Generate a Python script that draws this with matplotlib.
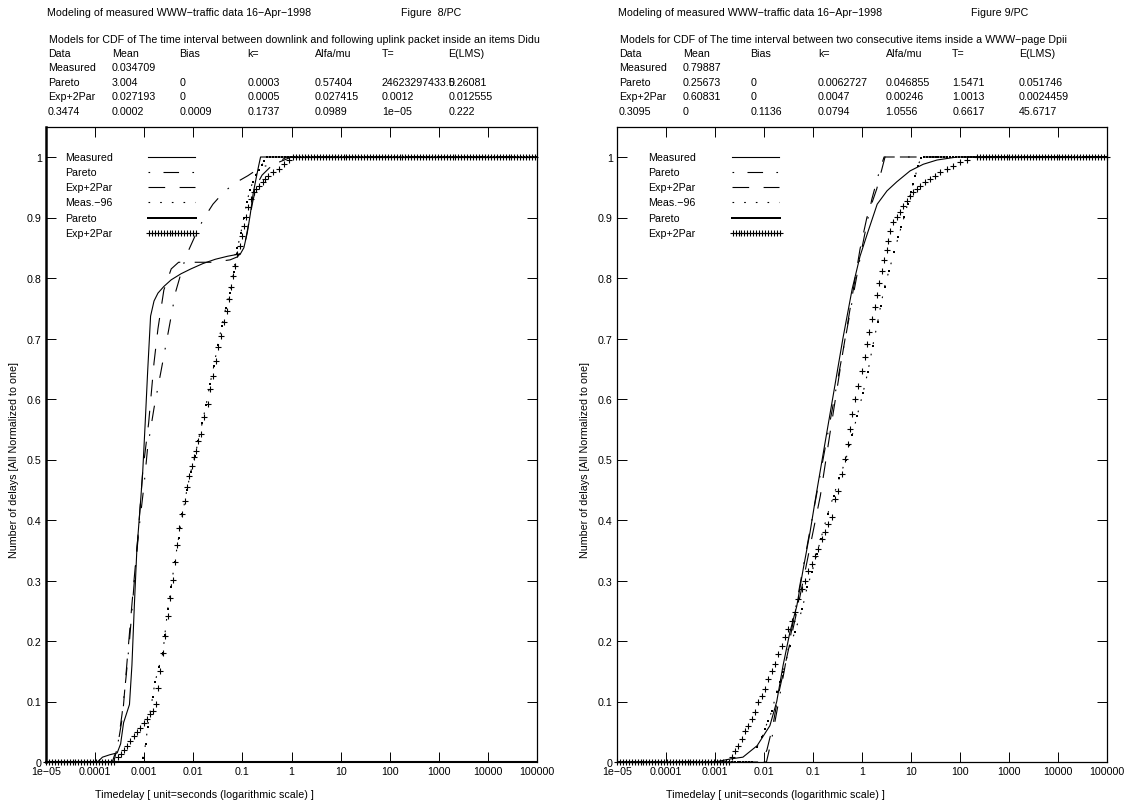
import numpy as np
import matplotlib.pyplot as plt
import matplotlib.transforms as mtransforms
from matplotlib.ticker import FixedLocator, FixedFormatter, NullLocator

plt.rcParams['font.family'] = ['Liberation Sans', 'DejaVu Sans']
FS = 7.7
plt.rcParams['font.size'] = FS

M = '\u2212'  # gnuplot style minus sign

# ---------------- axis ticks ----------------
x_ticks = [1e-5, 1e-4, 1e-3, 1e-2, 1e-1, 1, 10, 100, 1000, 10000, 100000]
x_tick_labels = ['1e' + M + '05', '0.0001', '0.001', '0.01', '0.1', '1', '10',
                 '100', '1000', '10000', '100000']
y_ticks = [0, 0.1, 0.2, 0.3, 0.4, 0.5, 0.6, 0.7, 0.8, 0.9, 1]
y_tick_labels = ['0', '0.1', '0.2', '0.3', '0.4', '0.5', '0.6', '0.7', '0.8', '0.9', '1']
legend_labels = ['Measured', 'Pareto', 'Exp+2Par', 'Meas.' + M + '96', 'Pareto', 'Exp+2Par']

# ---------------- header texts ----------------
title_text = 'Modeling of measured WWW' + M + 'traffic data 16' + M + 'Apr' + M + '1998'
fig_label_8 = 'Figure  8/PC'
fig_label_9 = 'Figure 9/PC'
subtitle_8 = ' Models for CDF of The time interval between downlink and following uplink packet inside an items Didu'
subtitle_9 = ' Models for CDF of The time interval between two consecutive items inside a WWW' + M + 'page Dpii'
table_head = ['Data', 'Mean', 'Bias', 'k=', 'Alfa/mu', 'T=', 'E(LMS)']
table_8 = [
    ['Measured', '0.034709', '', '', '', '', ''],
    ['Pareto', '3.004', '0', '0.0003', '0.57404', '24623297433.5', '0.26081'],
    ['Exp+2Par', '0.027193', '0', '0.0005', '0.027415', '0.0012', '0.012555'],
    ['0.3474', '0.0002', '0.0009', '0.1737', '0.0989', '1e' + M + '05', '0.222'],
]
table_9 = [
    ['Measured', '0.79887', '', '', '', '', ''],
    ['Pareto', '0.25673', '0', '0.0062727', '0.046855', '1.5471', '0.051746'],
    ['Exp+2Par', '0.60831', '0', '0.0047', '0.00246', '1.0013', '0.0024459'],
    ['0.3095', '0', '0.1136', '0.0794', '1.0556', '0.6617', '45.6717'],
]

# ---------------- Figure 8 data (log10 of delay in s, CDF) ----------------
meas8_lx = [-5.0, -3.95, -3.85, -3.7, -3.55, -3.48, -3.42, -3.36, -3.3, -3.25, -3.2, -3.15,
            -3.07, -3.03, -2.98, -2.93, -2.87, -2.8, -2.72, -2.6, -2.45, -2.25, -2.05, -1.8,
            -1.55, -1.3, -1.04, -0.97, -0.9, -0.84, -0.78, -0.72, -0.67, -0.63, 5.0]
meas8_y = [0.0, 0.0, 0.008, 0.012, 0.015, 0.03, 0.065, 0.08, 0.095, 0.16, 0.26, 0.35,
           0.435, 0.48, 0.56, 0.645, 0.737, 0.762, 0.775, 0.786, 0.797, 0.807, 0.815, 0.824,
           0.831, 0.836, 0.84, 0.85, 0.875, 0.905, 0.94, 0.965, 0.985, 1.0, 1.0]

pareto8_lx = [-5.0, -3.65, -3.54, -3.45, -3.37, -3.3, -3.23, -3.17, -3.1, -3.0, -2.93, -2.8,
              -2.66, -2.5, -2.36, -2.15, -1.95, -1.79, -1.6, -1.38, -1.15, -0.89, -0.63,
              -0.3, 0.0, 5.0]
pareto8_y = [0.0, 0.0, 0.027, 0.08, 0.14, 0.2, 0.27, 0.33, 0.39, 0.46, 0.52, 0.585,
             0.645, 0.715, 0.777, 0.836, 0.872, 0.898, 0.922, 0.942, 0.957, 0.969, 0.983,
             0.99, 1.0, 1.0]

exp8_lx = [-5.0, -3.62, -3.54, -3.44, -3.34, -3.24, -3.12, -3.03, -2.91, -2.8, -2.72, -2.6,
           -2.45, -2.3, -2.0, -1.6, -1.25, -1.1, -1.0, -0.93, -0.85, -0.78, -0.7, -0.6,
           -0.45, -0.3, -0.1, 5.0]
exp8_y = [0.0, 0.0, 0.027, 0.076, 0.175, 0.27, 0.38, 0.48, 0.56, 0.66, 0.716, 0.78,
          0.815, 0.826, 0.826, 0.826, 0.83, 0.835, 0.845, 0.865, 0.9, 0.93, 0.955, 0.97,
          0.982, 0.99, 1.0, 1.0]

# dotted (Meas.-96) and dot markers (Pareto, thick) follow the same samples
dots8_lx = [-3.03, -2.97, -2.93, -2.83, -2.78, -2.7, -2.62, -2.58, -2.52, -2.45, -2.38,
            -2.3, -2.22, -2.13, -2.05, -1.97, -1.9, -1.82, -1.74, -1.66, -1.58, -1.5,
            -1.42, -1.34, -1.26, -1.18, -1.1, -1.03, -0.97, -0.91, -0.85, -0.79, -0.73,
            -0.67, -0.61, -0.55, -0.49]
dots8_y = [0.006, 0.03, 0.058, 0.107, 0.132, 0.157, 0.18, 0.21, 0.253, 0.29, 0.33,
           0.37, 0.41, 0.45, 0.48, 0.505, 0.53, 0.56, 0.59, 0.625, 0.655, 0.69,
           0.72, 0.75, 0.775, 0.81, 0.85, 0.875, 0.9, 0.925, 0.945, 0.958, 0.97,
           0.978, 0.986, 0.993, 1.0]
dots8_flat = (-3.06, -0.43)   # last 0 sample, first 1 sample

plus8_lx = [-3.54, -3.48, -3.42, -3.35, -3.29, -3.21, -3.15, -3.09, -3.01, -2.95,
            -2.89, -2.83, -2.76, -2.72, -2.68, -2.62, -2.58, -2.52, -2.48, -2.42,
            -2.38, -2.34, -2.3, -2.22, -2.17, -2.13, -2.09, -2.03, -1.99, -1.95,
            -1.91, -1.85, -1.79, -1.71, -1.65, -1.59, -1.54, -1.5, -1.44, -1.38,
            -1.32, -1.28, -1.24, -1.2, -1.16, -1.12, -1.04, -1.0, -0.96, -0.93,
            -0.89, -0.83, -0.77, -0.73, -0.67, -0.59, -0.53, -0.47, -0.37, -0.26,
            -0.16, -0.06, 0.04]
plus8_y = [0.008, 0.013, 0.02, 0.027, 0.035, 0.043, 0.049, 0.057, 0.064, 0.071,
           0.079, 0.085, 0.096, 0.122, 0.151, 0.18, 0.209, 0.241, 0.271, 0.301,
           0.33, 0.359, 0.386, 0.41, 0.432, 0.455, 0.473, 0.49, 0.504, 0.514,
           0.531, 0.542, 0.57, 0.592, 0.617, 0.638, 0.663, 0.686, 0.704, 0.727,
           0.745, 0.765, 0.785, 0.803, 0.82, 0.84, 0.853, 0.869, 0.886, 0.901,
           0.917, 0.93, 0.942, 0.947, 0.952, 0.958, 0.964, 0.969, 0.975, 0.98,
           0.988, 0.995, 1.0]
plus8_flat = (-3.6, 0.1)

# ---------------- Figure 9 data ----------------
meas9_lx = [-5.0, -3.0, -2.69, -2.43, -2.14, -1.88, -1.74, -1.61, -1.47, -1.33, -1.2,
            -1.06, -0.96, -0.8, -0.59, -0.39, -0.2, -0.04, 0.12, 0.31, 0.51, 0.71,
            0.98, 1.25, 1.53, 1.94, 5.0]
meas9_y = [0.0, 0.0, 0.005, 0.008, 0.027, 0.06, 0.1, 0.16, 0.215, 0.258, 0.319,
           0.38, 0.43, 0.506, 0.605, 0.70, 0.782, 0.836, 0.876, 0.922, 0.944, 0.959,
           0.977, 0.988, 0.995, 1.0, 1.0]

pareto9_lx = [-5.0, -1.95, -1.85, -1.7, -1.5, -1.25, -1.0, -0.75, -0.5, -0.25, 0.0, 0.2,
              0.35, 0.45, 5.0]
pareto9_y = [0.0, 0.0, 0.035, 0.1, 0.19, 0.3, 0.41, 0.52, 0.63, 0.74, 0.85, 0.93,
             0.975, 1.0, 1.0]

exp9_lx = [-5.0, -2.05, -1.94, -1.82, -1.71, -1.53, -1.3, -1.05, -0.85, -0.65, -0.39,
           -0.2, -0.04, 0.1, 0.3, 0.47, 5.0]
exp9_y = [0.0, 0.0, 0.02, 0.06, 0.11, 0.175, 0.26, 0.36, 0.44, 0.545, 0.678,
          0.77, 0.848, 0.9, 0.947, 1.0, 1.0]

dots9_lx = [-2.14, -2.04, -1.98, -1.92, -1.84, -1.74, -1.67, -1.61, -1.47, -1.37,
            -1.22, -1.12, -1.02, -0.92, -0.84, -0.7, -0.58, -0.46, -0.33, -0.2,
            -0.1, 0.02, 0.12, 0.22, 0.32, 0.38, 0.46, 0.55, 0.66, 0.74, 0.8, 0.86,
            0.93, 1.0, 1.04, 1.09, 1.14, 1.2]
dots9_y = [0.025, 0.041, 0.055, 0.068, 0.084, 0.116, 0.132, 0.149, 0.192, 0.215,
           0.253, 0.289, 0.314, 0.344, 0.369, 0.41, 0.44, 0.47, 0.5, 0.54,
           0.572, 0.61, 0.645, 0.688, 0.727, 0.754, 0.785, 0.812, 0.843, 0.868, 0.884, 0.901,
           0.922, 0.942, 0.955, 0.969, 0.985, 0.998]
dots9_flat = (-2.2, 1.26)

plus9_lx = [-2.65, -2.59, -2.53, -2.45, -2.39, -2.33, -2.25, -2.18, -2.12, -2.04,
            -1.98, -1.92, -1.84, -1.78, -1.71, -1.63, -1.57, -1.51, -1.43, -1.37,
            -1.31, -1.22, -1.16, -1.1, -1.02, -0.96, -0.9, -0.82, -0.76, -0.69,
            -0.61, -0.55, -0.49, -0.41, -0.35, -0.29, -0.25, -0.2, -0.14, -0.08,
            0.0, 0.06, 0.1, 0.14, 0.2, 0.27, 0.31, 0.35, 0.41, 0.45,
            0.51, 0.53, 0.57, 0.63, 0.71, 0.78, 0.84, 0.92, 0.98, 1.04,
            1.12, 1.18, 1.29, 1.39, 1.49, 1.59, 1.73, 1.86, 2.0, 2.14, 2.35]
plus9_y = [0.008, 0.018, 0.027, 0.038, 0.051, 0.06, 0.071, 0.083, 0.099, 0.109,
           0.121, 0.137, 0.151, 0.162, 0.179, 0.192, 0.207, 0.22, 0.233, 0.248,
           0.269, 0.286, 0.299, 0.316, 0.327, 0.341, 0.352, 0.369, 0.38, 0.393,
           0.405, 0.435, 0.448, 0.476, 0.501, 0.526, 0.55, 0.575, 0.6, 0.622,
           0.646, 0.669, 0.691, 0.711, 0.732, 0.752, 0.772, 0.792, 0.812, 0.83,
           0.846, 0.861, 0.878, 0.893, 0.901, 0.909, 0.919, 0.927, 0.936, 0.942,
           0.947, 0.952, 0.959, 0.964, 0.969, 0.975, 0.98, 0.985, 0.992, 0.995, 1.0]
plus9_flat = (-2.7, 2.41)

STEP = 0.06  # log10 spacing of the sampled marker series


def with_tails(lx, y, flat):
    # marker series were sampled on a log grid; flat 0 / 1 ends are the same grid
    lo = np.arange(-5.0, flat[0] + 1e-9, STEP)
    hi = np.arange(flat[1], 5.0 + 1e-9, STEP)
    xs = np.concatenate([lo, lx, hi])
    ys = np.concatenate([np.zeros(len(lo)), y, np.ones(len(hi))])
    return 10 ** xs, ys


W, H = 1142, 803
fig = plt.figure(figsize=(W / 100, H / 100), dpi=100)

LW = 0.8
st_meas = dict(color='k', lw=LW, ls='-')
st_pareto = dict(color='k', lw=LW, ls=(0, (1.5, 12, 14, 12)))
st_exp = dict(color='k', lw=LW, ls=(0, (15, 13)))
st_m96 = dict(color='k', lw=LW, ls=(0, (1.5, 9)))
st_dots = dict(color='k', ls='none', marker='s', ms=1.7, mew=0)
st_plus = dict(color='k', ls='none', marker='+', ms=5, mew=0.8)


def panel(left_px, right_px, series, fig_label, subtitle, table, key_x, thick_left=False):
    top_px, bot_px = 128, 763
    ax = fig.add_axes([left_px / W, 1 - bot_px / H, (right_px - left_px) / W,
                       (bot_px - top_px) / H])
    meas, par, exp, dots, plus = series

    ax.plot(10 ** np.array(meas[0]), meas[1], **st_meas)
    ax.plot(10 ** np.array(par[0]), par[1], **st_pareto)
    ax.plot(10 ** np.array(exp[0]), exp[1], **st_exp)
    ax.plot(10 ** np.array(dots[0]), dots[1], **st_m96)
    dx, dy = with_tails(*dots)
    ax.plot(dx, dy, **st_dots)
    px, py = with_tails(*plus)
    ax.plot(px, py, clip_on=False, **st_plus)

    ax.set_xscale('log')
    ax.set_xlim(1e-5, 1e5)
    ax.set_ylim(0, (bot_px - top_px) / 605)
    ax.xaxis.set_major_locator(FixedLocator(x_ticks))
    ax.xaxis.set_major_formatter(FixedFormatter(x_tick_labels))
    ax.xaxis.set_minor_locator(NullLocator())
    ax.yaxis.set_major_locator(FixedLocator(y_ticks))
    ax.yaxis.set_major_formatter(FixedFormatter(y_tick_labels))
    ax.tick_params(direction='in', length=7, width=0.7, top=True, right=True,
                   labelsize=FS, pad=3)
    for s in ax.spines.values():
        s.set_linewidth(0.9)
    if thick_left:
        ax.spines['left'].set_linewidth(1.8)
        ax.spines['bottom'].set_linewidth(1.5)

    # key, drawn gnuplot-like: label left, sample right
    tr = mtransforms.blended_transform_factory(ax.transAxes, ax.transData)
    styles = [st_meas, st_pareto, st_exp, st_m96, st_dots, st_plus]
    kt, k0, k1 = key_x
    for i, (lab, st) in enumerate(zip(legend_labels, styles)):
        yy = 1.0 - 0.025 * i
        ax.text(kt, yy, lab, transform=tr, va='center', ha='left')
        if st.get('ls') != 'none':
            ax.plot([k0, k1], [yy, yy], transform=tr, clip_on=False, **st)
        elif st['marker'] == 's':
            xs = np.linspace(k0, k1 + 0.002, 34)
            ax.plot(xs, [yy] * len(xs), transform=tr, clip_on=False, **st)
        else:
            xs = np.linspace(k0 + 0.002, k1 + 0.002, 17)
            ax.plot(xs, [yy] * len(xs), transform=tr, clip_on=False, **st)

    # header above the plot
    tf = mtransforms.blended_transform_factory(ax.transAxes, fig.transFigure)
    fy = lambda p: 1 - p / H
    ax.text(0.003, fy(13), title_text, transform=tf, va='center')
    ax.text(0.722, fy(13), fig_label, transform=tf, va='center')
    ax.text(0.0, fy(40), subtitle, transform=tf, va='center')
    cols = [0.004, 0.134, 0.272, 0.41, 0.548, 0.684, 0.82]
    rows_y = [54, 68, 83, 97, 112]
    for r, row in enumerate([table_head] + table):
        for c, cell in enumerate(row):
            if cell:
                ax.text(cols[c], fy(rows_y[r]), cell, transform=tf, va='center')

    fig.text((left_px + 0.1 * (right_px - left_px)) / W, fy(795),
             'Timedelay [ unit=seconds (logarithmic scale) ]', va='center')
    fig.text((left_px - 32) / W, fy(460), 'Number of delays [All Normalized to one]',
             rotation=90, va='center', ha='center')
    return ax


panel(46, 537,
      [(meas8_lx, meas8_y), (pareto8_lx, pareto8_y), (exp8_lx, exp8_y),
       (dots8_lx, dots8_y, dots8_flat), (plus8_lx, plus8_y, plus8_flat)],
      fig_label_8, subtitle_8, table_8, (0.038, 0.208, 0.303), thick_left=True)
panel(617, 1107,
      [(meas9_lx, meas9_y), (pareto9_lx, pareto9_y), (exp9_lx, exp9_y),
       (dots9_lx, dots9_y, dots9_flat), (plus9_lx, plus9_y, plus9_flat)],
      fig_label_9, subtitle_9, table_9, (0.064, 0.234, 0.33))

fig.savefig('out.png', dpi=100, facecolor='white')
